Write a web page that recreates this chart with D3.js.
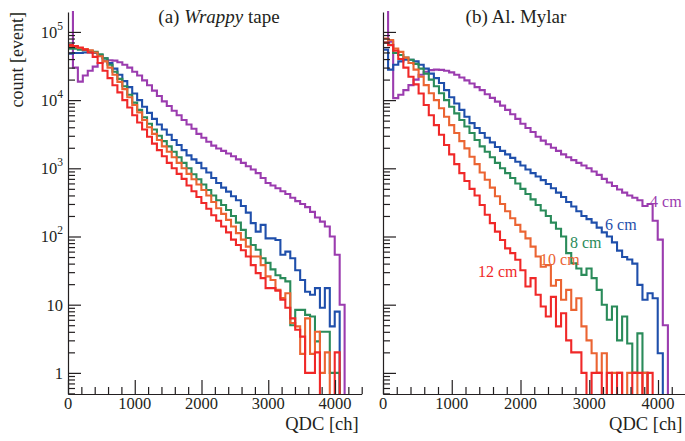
<!DOCTYPE html>
<html lang="en">
<head>
<meta charset="utf-8">
<title>QDC spectra</title>
<script src="https://cdn.jsdelivr.net/npm/d3@7"></script>
<style>
  body { margin: 0; background: #fff; }
  svg text { font-family: "Liberation Serif", "Times New Roman", Tinos, "Nimbus Roman", "DejaVu Serif", serif; fill: #231f20; }
</style>
</head>
<body>
<svg id="chart" width="685" height="441"></svg>
<script>
// histogram bin width in QDC channels
const binWidth = 74;

const distances = ['4 cm', '6 cm', '8 cm', '10 cm', '12 cm'];
const colors = ['#9b3caf', '#1f4fab', '#2a8b5a', '#eb6432', '#f02828'];

// (a) Wrappy tape, counts per bin
const wrappy4 = [5e5, 3.0e4, 1.87e4, 2.3e4, 2.7e4, 3.1e4, 3.5e4, 3.75e4, 3.85e4, 3.8e4,
  3.6e4, 3.3e4, 3.0e4, 2.6e4, 2.3e4, 1.95e4, 1.65e4, 1.38e4, 1.15e4, 9600,
  8200, 7000, 6000, 5100, 4400, 3800, 3200, 2800, 2450, 2150,
  1950, 1800, 1650, 1500, 1350, 1200, 1070, 960, 850, 720,
  610, 560, 510, 460, 420, 370, 330, 300, 270, 230,
  190, 165, 140, 100, 54, 10];
const wrappy6 = [4.8e4, 4.9e4, 4.9e4, 5.0e4, 5.0e4, 4.9e4, 4.6e4, 4.1e4, 3.5e4, 2.9e4,
  2.35e4, 1.9e4, 1.55e4, 1.25e4, 1.0e4, 8000, 6500, 5300, 4400, 3700,
  3100, 2600, 2200, 1850, 1550, 1350, 1200, 1000, 870, 720,
  610, 520, 455, 390, 340, 280, 224, 157, 118, 148,
  94, 94, 89, 54, 60, 48, 32, 23, 15.5, 14,
  17.5, 9, 17.5, 4.8, 7.9];
const wrappy8 = [5.7e4, 5.7e4, 5.5e4, 5.4e4, 5.3e4, 5.1e4, 4.7e4, 4.1e4, 3.3e4, 2.6e4,
  2.05e4, 1.6e4, 1.2e4, 9200, 7200, 5600, 4500, 3700, 3000, 2500,
  2100, 1750, 1450, 1200, 1000, 820, 690, 580, 480, 400,
  340, 290, 245, 200, 160, 125, 95, 75, 64, 48,
  41, 33, 27, 24.5, 22, 5, 8.4, 8.4, 7.1, 6.7,
  2.9, 4, 4, 1, 1];
const wrappy10 = [6.2e4, 6.0e4, 5.8e4, 5.6e4, 5.4e4, 5.0e4, 4.4e4, 3.7e4, 3.0e4, 2.35e4,
  1.85e4, 1.45e4, 1.1e4, 8500, 6600, 5100, 4000, 3200, 2600, 2100,
  1750, 1450, 1200, 1000, 830, 690, 580, 480, 400, 320,
  260, 215, 175, 140, 112, 90, 71, 51, 51, 38,
  26, 23, 16.5, 12.5, 14.7, 5.4, 4.8, 1.9, 6.3, 1.9,
  4, 1, 2];
const wrappy12 = [6.4e4, 6.2e4, 5.9e4, 5.5e4, 5.0e4, 4.3e4, 3.5e4, 2.7e4, 2.1e4, 1.65e4,
  1.3e4, 1.0e4, 7800, 6000, 4700, 3700, 2900, 2300, 1850, 1500,
  1200, 1000, 830, 700, 560, 460, 380, 310, 255, 205,
  170, 140, 115, 90, 75, 63, 51, 38, 29, 24.5,
  17.5, 17.5, 16, 11.8, 9, 6.3, 4.3, 3.4, 1, 1,
  2, 0, 0, 0, 2];

// (b) Al. Mylar, counts per bin
const mylar4 = [5e5, 7.2e4, 1.07e4, 1.2e4, 1.4e4, 1.66e4, 2.0e4, 2.35e4, 2.6e4, 2.75e4,
  2.8e4, 2.78e4, 2.7e4, 2.55e4, 2.35e4, 2.15e4, 1.95e4, 1.75e4, 1.55e4, 1.4e4,
  1.22e4, 1.08e4, 9500, 8300, 7200, 6200, 5300, 4500, 3900, 3400,
  2900, 2550, 2250, 2000, 1800, 1600, 1450, 1320, 1200, 1100,
  1000, 900, 800, 700, 620, 550, 490, 440, 400, 370,
  340, 280, 300, 170, 90, 5];
const mylar6 = [5.5e4, 2.8e4, 3.3e4, 3.7e4, 3.9e4, 3.9e4, 3.7e4, 3.3e4, 2.9e4, 2.45e4,
  2.1e4, 1.78e4, 1.4e4, 1.1e4, 8900, 7200, 5700, 4600, 3900, 3300,
  2800, 2400, 2050, 1800, 1600, 1420, 1250, 1100, 960, 850,
  760, 670, 590, 510, 440, 380, 320, 275, 235, 200,
  180, 160, 135, 115, 100, 82, 62, 50, 46, 40,
  19.5, 11.8, 14.7, 12.4, 1.94];
const mylar8 = [7.0e4, 6.5e4, 4.9e4, 4.6e4, 4.2e4, 3.9e4, 3.4e4, 2.9e4, 2.45e4, 2.0e4,
  1.6e4, 1.26e4, 1.0e4, 8000, 6400, 5100, 4100, 3300, 2600, 2100,
  1750, 1450, 1200, 1000, 850, 720, 600, 500, 420, 350,
  290, 240, 200, 160, 130, 100, 57, 40.5, 34, 27.4,
  34, 24.5, 16.5, 10, 6, 9.4, 3, 6.7, 2.7, 1,
  3.8, 1];
const mylar10 = [8.0e4, 7.6e4, 5.7e4, 5.1e4, 4.2e4, 3.5e4, 2.8e4, 2.2e4, 1.66e4, 1.26e4,
  1.0e4, 7600, 5700, 4300, 3300, 2500, 1960, 1480, 1150, 870,
  680, 520, 390, 300, 235, 185, 148, 118, 94, 71,
  51, 36, 38, 19, 23, 11.8, 16.5, 8.4, 12.4, 4.8,
  3.0, 1.94, 1, 1.94, 0, 1, 1, 0, 1, 1,
  0, 1];
const mylar12 = [7.0e4, 6.4e4, 5.3e4, 4.0e4, 3.0e4, 2.2e4, 1.7e4, 1.25e4, 8500, 6000,
  4300, 3100, 2200, 1600, 1150, 850, 650, 500, 400, 290,
  208, 157, 118, 89, 67, 57, 45.5, 32, 18.5, 24.5,
  14, 9.4, 6.7, 13, 4.8, 7.5, 3, 2, 2, 1,
  0, 1, 1, 0, 1, 0, 1, 0, 0, 1,
  1, 0, 1];

// curve labels in panel (b): [QDC channel, count] of the text start
const labelPos = [[3885, 272], [3230, 125], [2720, 68], [2285, 38], [1380, 25.6]];

const xTickValues = [0, 1000, 2000, 3000, 4000];
const yTickValues = [1, 10, 100, 1000, 1e4, 1e5];
const yTickBase = ['1', '10', '10', '10', '10', '10'];
const yTickExp = ['', '', '2', '3', '4', '5'];

const panels = [
  {id: 'a', left: 68, right: 361.7, series: [wrappy4, wrappy6, wrappy8, wrappy10, wrappy12],
   title: [['(a) ', 'normal'], ['Wrappy', 'italic'], [' tape', 'normal']], titleX: 219, yLabels: true},
  {id: 'b', left: 383, right: 685.5, series: [mylar4, mylar6, mylar8, mylar10, mylar12],
   title: [['(b) Al. Mylar', 'normal']], titleX: 516, yLabels: false}
];

const serif = '"Liberation Serif", "Times New Roman", Tinos, "Nimbus Roman", "DejaVu Serif", serif';
const plotTop = 12, plotBottom = 394;
const svg = d3.select('#chart').attr('font-family', serif);

const y = d3.scaleLog().domain([0.49, 1.96e5]).range([plotBottom, plotTop]);
const yMinor = y.ticks().filter(d => Math.abs(Math.log10(d) - Math.round(Math.log10(d))) > 1e-6);

panels.forEach(p => {
  const x = d3.scaleLinear().domain([0, 4400]).range([p.left, p.right]);
  const g = svg.append('g');

  g.append('clipPath').attr('id', 'clip-' + p.id)
    .append('rect')
    .attr('x', p.left).attr('y', plotTop - 1)
    .attr('width', p.right - p.left).attr('height', plotBottom - plotTop + 1);

  const line = d3.line()
    .curve(d3.curveStepAfter)
    .x(d => x(d[0]))
    .y(d => d[1] > 0 ? y(d[1]) : plotBottom + 6);

  const plot = g.append('g').attr('clip-path', `url(#clip-${p.id})`);
  plot.selectAll('path')
    .data(p.series)
    .enter().append('path')
    .attr('d', vals => {
      const pts = vals.map((v, i) => [i * binWidth, v]);
      pts.push([vals.length * binWidth, 0]);
      return line(pts);
    })
    .attr('fill', 'none')
    .attr('stroke', (d, i) => colors[i])
    .attr('stroke-width', 2.1)
    .attr('stroke-linejoin', 'miter');

  // y axis, ticks pointing into the frame
  g.append('g').attr('transform', `translate(${p.left},0)`)
    .call(d3.axisRight(y).tickValues(yTickValues).tickSize(13).tickSizeOuter(0).tickFormat(''));
  const yMin = g.append('g').attr('transform', `translate(${p.left},0)`)
    .call(d3.axisRight(y).tickValues(yMinor).tickSize(7).tickFormat(''));
  yMin.select('.domain').remove();

  // x axis, ticks pointing up
  g.append('g').attr('transform', `translate(0,${plotBottom})`)
    .call(d3.axisTop(x).tickValues(xTickValues).tickSize(14).tickSizeOuter(0).tickFormat(''));
  const xMin = g.append('g').attr('transform', `translate(0,${plotBottom})`)
    .call(d3.axisTop(x).tickValues(x.ticks(22).filter(d => d % 1000 !== 0)).tickSize(7).tickFormat(''));
  xMin.select('.domain').remove();

  g.selectAll('.domain, .tick line').attr('stroke', '#231f20').attr('stroke-width', 1.2);

  g.selectAll('.xlab')
    .data(xTickValues)
    .enter().append('text')
    .attr('class', 'xlab')
    .attr('x', d => x(d))
    .attr('y', 409)
    .attr('text-anchor', 'middle')
    .attr('font-family', serif)
    .style('font-size', '16.5px')
    .text(d => d);

  if (p.yLabels) {
    const t = g.selectAll('.ylab')
      .data(yTickValues)
      .enter().append('text')
      .attr('class', 'ylab')
      .attr('x', 63)
      .attr('y', d => y(d) + 6)
      .attr('text-anchor', 'end')
      .attr('font-family', serif)
      .style('font-size', '16.5px');
    t.append('tspan').text((d, i) => yTickBase[i]);
    t.append('tspan')
      .attr('dy', -8)
      .style('font-size', '11.5px')
      .text((d, i) => yTickExp[i]);
  } else {
    g.selectAll('.clab')
      .data(labelPos)
      .enter().append('text')
      .attr('class', 'clab')
      .attr('x', d => x(d[0]))
      .attr('y', d => y(d[1]))
      .attr('font-family', serif)
      .style('font-size', '16px')
      .style('fill', (d, i) => colors[i])
      .text((d, i) => distances[i]);
  }

  const title = g.append('text')
    .attr('x', p.titleX)
    .attr('y', 23)
    .attr('text-anchor', 'middle')
    .attr('font-family', serif)
    .style('font-size', '19px');
  p.title.forEach(part => {
    title.append('tspan').style('font-style', part[1]).text(part[0]);
  });

  g.append('text')
    .attr('x', p.right - 3)
    .attr('y', 430)
    .attr('text-anchor', 'end')
    .attr('font-family', serif)
    .style('font-size', '18.5px')
    .text('QDC [ch]');
});

svg.append('text')
  .attr('transform', 'translate(23,12) rotate(-90)')
  .attr('text-anchor', 'end')
  .attr('font-family', serif)
  .style('font-size', '18px')
  .text('count [event]');
</script>
</body>
</html>
